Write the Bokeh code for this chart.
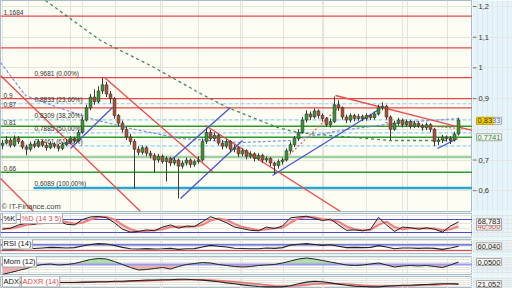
import numpy as np
from bokeh.plotting import figure
from bokeh.layouts import column, row
from bokeh.models import ColumnDataSource, Range1d, FixedTicker, Grid
from bokeh.core.properties import value
from bokeh.embed import file_html
from bokeh.resources import INLINE

# ---------------- data ----------------
opens = [0.748,0.755,0.765,0.748,0.770,0.760,0.742,0.735,0.752,0.745,
0.760,0.748,0.740,0.752,0.745,0.738,0.750,0.758,0.770,0.762,
0.790,0.830,0.870,0.905,0.890,0.925,0.945,0.915,0.900,0.845,
0.820,0.800,0.775,0.760,0.735,0.725,0.740,0.722,0.715,0.700,
0.712,0.695,0.705,0.690,0.700,0.680,0.690,0.700,0.685,0.695,
0.700,0.760,0.790,0.770,0.780,0.755,0.745,0.760,0.735,0.740,
0.720,0.730,0.712,0.720,0.705,0.715,0.700,0.705,0.690,0.682,
0.695,0.700,0.730,0.750,0.770,0.790,0.830,0.850,0.840,0.860,
0.845,0.835,0.815,0.825,0.880,0.870,0.840,0.830,0.845,0.835,
0.842,0.835,0.845,0.838,0.850,0.870,0.875,0.840,0.800,0.820,
0.830,0.815,0.825,0.810,0.820,0.812,0.805,0.815,0.800,0.760,
0.765,0.775,0.770,0.765,0.785]
closes = [0.755,0.765,0.748,0.770,0.760,0.742,0.735,0.752,0.745,0.760,
0.748,0.740,0.752,0.745,0.738,0.750,0.758,0.770,0.762,0.790,
0.830,0.870,0.905,0.890,0.925,0.945,0.915,0.900,0.845,0.820,
0.800,0.775,0.760,0.735,0.725,0.740,0.722,0.715,0.700,0.712,
0.695,0.705,0.690,0.700,0.680,0.690,0.700,0.685,0.695,0.700,
0.760,0.790,0.770,0.780,0.755,0.745,0.760,0.735,0.740,0.720,
0.730,0.712,0.720,0.705,0.715,0.700,0.705,0.690,0.682,0.695,
0.700,0.730,0.750,0.770,0.790,0.830,0.850,0.840,0.860,0.845,
0.835,0.815,0.825,0.880,0.870,0.840,0.830,0.845,0.835,0.842,
0.835,0.845,0.838,0.850,0.870,0.875,0.840,0.800,0.820,0.830,
0.815,0.825,0.810,0.820,0.812,0.805,0.815,0.800,0.760,0.765,
0.775,0.770,0.765,0.785,0.830]
highs = [0.765,0.778,0.772,0.780,0.778,0.765,0.750,0.760,0.762,0.768,
0.765,0.755,0.760,0.758,0.752,0.758,0.768,0.778,0.776,0.798,
0.840,0.880,0.915,0.930,0.940,0.968,0.955,0.925,0.905,0.850,
0.828,0.808,0.785,0.768,0.745,0.748,0.745,0.730,0.722,0.720,
0.718,0.712,0.710,0.708,0.705,0.698,0.708,0.705,0.702,0.712,
0.770,0.806,0.798,0.790,0.785,0.765,0.768,0.765,0.750,0.745,
0.738,0.735,0.728,0.725,0.722,0.720,0.712,0.710,0.695,0.702,
0.708,0.738,0.760,0.778,0.800,0.840,0.862,0.858,0.868,0.865,
0.852,0.840,0.835,0.907,0.895,0.875,0.848,0.852,0.850,0.850,
0.848,0.852,0.850,0.858,0.880,0.888,0.880,0.845,0.828,0.838,
0.835,0.832,0.830,0.828,0.826,0.818,0.822,0.820,0.805,0.775,
0.782,0.780,0.778,0.792,0.838]
lows = [0.735,0.750,0.740,0.742,0.752,0.735,0.715,0.728,0.738,0.740,
0.742,0.730,0.735,0.738,0.728,0.732,0.745,0.752,0.755,0.758,
0.785,0.825,0.862,0.880,0.885,0.915,0.905,0.885,0.835,0.810,
0.790,0.765,0.750,0.607,0.715,0.718,0.712,0.705,0.660,0.692,
0.688,0.630,0.680,0.683,0.575,0.672,0.682,0.675,0.678,0.688,
0.695,0.752,0.762,0.762,0.748,0.735,0.738,0.725,0.725,0.710,
0.712,0.702,0.705,0.695,0.698,0.690,0.692,0.680,0.655,0.672,
0.685,0.695,0.722,0.742,0.762,0.785,0.822,0.830,0.835,0.835,
0.825,0.808,0.806,0.820,0.860,0.832,0.820,0.822,0.826,0.828,
0.826,0.828,0.830,0.832,0.845,0.862,0.832,0.765,0.795,0.812,
0.806,0.808,0.802,0.804,0.805,0.795,0.798,0.790,0.745,0.748,
0.755,0.760,0.752,0.760,0.780]
bar_idx = list(range(len(closes)))

# horizontal levels
red_levels = [1.1684, 1.0655, 0.9681, 0.90, 0.87]
green_levels = [0.81, 0.7741, 0.66]
light_green_levels = [0.71]
fib_levels = [0.8833, 0.8309, 0.7885, 0.7461]
fib_base_level = [0.6089]
level_tags = ["1,1684", "0,9", "0,87", "0,81", "0,66"]
level_tag_vals = [1.1684, 0.90, 0.87, 0.81, 0.66]
fib_tags = ["0,9681 (0,00%)", "0,8833 (23,60%)", "0,8309 (38,20%)",
            "0,7885 (50,00%)", "0,7461 (61,80%)", "0,6089 (100,00%)"]
fib_tag_vals = [0.9681, 0.8833, 0.8309, 0.7885, 0.7461, 0.6089]

# trend lines (bar index, price)
red_tl_x0 = [25.5, -0.5, -0.5, 50.75, 83.25]
red_tl_y0 = [0.9687, 0.9752, 0.6397, 0.8124, 0.9101]
red_tl_x1 = [52.75, 34.5, 7.75, 84.5, 117.5]
red_tl_y1 = [0.6593, 0.5322, 0.5322, 0.5322, 0.7961]
blue_tl_x0 = [44.5, 41.5, 17.0, 67.5, 108.75]
blue_tl_y0 = [0.5746, 0.6919, 0.7375, 0.6495, 0.7375]
blue_tl_x1 = [60.0, 57.0, 27.5, 94.5, 113.75]
blue_tl_y1 = [0.7635, 0.8710, 0.8710, 0.8678, 0.7700]
red_dot_x0 = [70.25, 95.75]
red_dot_y0 = [0.6984, 0.8221]
red_dot_x1 = [83.75, 117.5]
red_dot_y1 = [0.8678, 0.7993]

# moving averages (dashed)
ma_green_idx = [10.75, 24.5, 37, 49.5, 56.25, 68.75, 73.75, 82, 97, 112.75]
ma_green_val = [1.2195, 1.0893, 1.0078, 0.9166, 0.8710, 0.8059, 0.7896, 0.7798, 0.7635, 0.7635]
ma_blue_idx = [-0.5, 5.75, 13.25, 22, 32, 44.5, 59.5, 72, 84.5, 99.5, 114.5]
ma_blue_val = [1.0176, 0.9101, 0.8743, 0.8352, 0.8026, 0.7700, 0.7570, 0.7635, 0.7961, 0.8221, 0.8352]

price_ticks = [0.6, 0.7, 0.9, 1.0, 1.1, 1.2]
price_tick_labels = ["0,6", "0,7", "0,9", "1", "1,1", "1,2"]
price_grid = [0.6, 0.7, 0.8, 0.9, 1.0, 1.1, 1.2]
month_idx = [6.5, 17, 28.25, 39.5, 49, 59.5, 70.25, 80.25, 91, 101.25, 111.25]

# last-value tags on the right scale
last_price = 0.8275
last_price_tags = ["0,8333", "0,83"]
support_level = 0.7741
support_tag = "0,7741"

# indicators (every second bar)
ind_idx = list(range(0, 115, 2))
stoch_k = [35,40,55,62,58,70,78,72,58,55,80,92,94,88,65,35,22,25,32,28,
           45,55,40,50,48,70,93,80,65,45,38,30,28,45,38,50,88,92,95,85,
           75,82,55,30,32,28,35,90,55,25,45,42,35,42,35,22,50,69]
stoch_d = [38,38,45,55,60,63,70,75,68,60,65,80,90,92,80,55,35,25,27,30,
           35,45,48,45,48,55,75,85,78,60,45,38,30,35,40,42,65,85,92,90,
           82,78,70,48,35,30,32,55,70,45,35,40,40,38,38,30,35,47]
rsi = [35,36,40,45,44,48,52,50,48,50,62,72,78,76,65,52,42,40,43,40,
       42,45,38,42,43,55,66,60,55,46,44,42,42,48,45,50,68,74,78,72,
       66,70,60,50,52,50,52,64,54,42,48,48,45,47,45,38,48,60]
mom = [-0.20,-0.16,-0.12,-0.08,-0.03,0.00,0.01,-0.01,0.00,0.02,
       0.06,0.10,0.12,0.11,0.06,0.00,-0.06,-0.11,-0.10,-0.08,
       -0.06,-0.09,-0.04,0.00,0.02,0.04,0.03,0.00,-0.02,-0.04,
       -0.05,-0.04,-0.02,-0.01,0.00,0.03,0.07,0.11,0.13,0.11,
       0.08,0.05,0.02,-0.01,-0.02,-0.01,0.01,0.03,-0.01,-0.05,
       -0.03,-0.02,-0.03,-0.02,-0.04,-0.06,-0.01,0.05]
adx = [25,25,25,24,24,24,25,25,25,25,26,26,27,27,28,28,29,30,31,31,
       32,32,33,33,32,31,29,27,24,22,19,17,15,14,14,14,17,22,26,28,
       27,24,21,18,16,15,14,14,16,17,18,18,19,20,21,22,22,21]
adxr = [27,27,26,26,25,25,25,25,25,25,25,26,26,26,27,27,28,28,29,30,
        30,31,31,32,32,32,31,30,29,27,25,23,21,19,17,16,16,17,19,21,
        22,22,22,21,20,18,17,16,16,16,17,17,18,19,19,20,21,21]
stoch_levels = [80, 20]
rsi_hi, rsi_lo = [70], [30]
mom_zero = [0.0]
stoch_last = [68.783, 46.900]
stoch_last_tags = ["68,783", "46,900"]
rsi_last, rsi_last_tag = 60.040, "60,040"
mom_last, mom_last_tag = 0.05, "0,0500"
adx_last, adx_last_tag = 21.052, "21,052"

# ---------------- styling ----------------
FONT = "Liberation Sans"
XR = (-0.5, 117.5)
BG = "#fdfdf3"
SIDE = "#e3f5fa"
GRIDC = "#e3e3da"
OUTLINE = "#a9bcc6"
SIDE_XR = (0, 40)


def make_fig(h, yr, bottom):
    p = figure(width=472, height=h, x_range=Range1d(*XR), y_range=Range1d(*yr),
               output_backend="svg", toolbar_location=None, title=None,
               x_axis_location=None, y_axis_location=None,
               min_border_left=0, min_border_right=0, min_border_top=0,
               min_border_bottom=bottom)
    p.background_fill_color = BG
    p.border_fill_color = SIDE
    p.outline_line_color = OUTLINE
    p.add_layout(Grid(dimension=0, ticker=FixedTicker(ticks=month_idx),
                      grid_line_color=GRIDC, grid_line_width=1))
    return p


def make_side(h, yr, bottom):
    s = figure(width=40, height=h, x_range=Range1d(*SIDE_XR), y_range=yr,
               output_backend="svg", toolbar_location=None, title=None,
               x_axis_location=None, y_axis_location=None,
               min_border_left=0, min_border_right=0, min_border_top=0,
               min_border_bottom=bottom)
    s.background_fill_color = SIDE
    s.border_fill_color = SIDE
    s.outline_line_color = None
    return s


def tag(s, ys, texts, colors, fill="#f6f6f0", border="#a8a8a8", x=4):
    n = len(texts)
    s.text(x=[x] * n, y=ys, text=texts, text_color=colors, text_font=value(FONT),
           text_font_size="7.5px", text_baseline="middle",
           background_fill_color=fill, border_line_color=border, padding=1)


def name_tag(p, x, y, text, color):
    p.text(x=[x], y=[y], text=[text], text_color=color, text_font=value(FONT),
           text_font_size="7.5px", text_baseline="middle", x_offset=0,
           background_fill_color="#ffffff", border_line_color="#a8a8a8", padding=1)


# ---------------- main price panel ----------------
main = make_fig(213, (0.53225, 1.21954), 2)
main.add_layout(Grid(dimension=1, ticker=FixedTicker(ticks=price_grid), grid_line_color=GRIDC))

def hlines(levels, color, width, dash="solid", start=XR[0]):
    main.segment(x0=[start] * len(levels), x1=[XR[1]] * len(levels), y0=levels, y1=levels,
                 line_color=color, line_width=width, line_dash=dash)

hlines(light_green_levels, "#9fd09f", 2.5)
hlines(fib_levels, "#8fd0f0", 1.2, "4 2")
hlines(red_levels, "#e84848", 1.2)
hlines(green_levels, "#2e9a2e", 1.5)
hlines(fib_base_level, "#2aa6cc", 2.5, start=7.75)

main.line(ma_green_idx, ma_green_val, line_color="#3c8a5c", line_width=1.3, line_dash="3 3")
main.line(ma_blue_idx, ma_blue_val, line_color="#7b8ee6", line_width=1.2, line_dash="3 2")

main.segment(red_tl_x0, red_tl_y0, red_tl_x1, red_tl_y1, line_color="#ee4a4a", line_width=1.3)
main.segment(blue_tl_x0, blue_tl_y0, blue_tl_x1, blue_tl_y1, line_color="#4a55d8", line_width=1.3)
main.segment(red_dot_x0, red_dot_y0, red_dot_x1, red_dot_y1, line_color="#ee5a5a",
             line_width=1.2, line_dash="2 2")

o = np.array(opens); c = np.array(closes)
csrc = ColumnDataSource(dict(x=bar_idx, high=highs, low=lows,
                             top=np.maximum(o, c), bottom=np.minimum(o, c),
                             color=np.where(c >= o, "#2f9a2f", "#b94a2c")))
main.segment(x0="x", y0="low", x1="x", y1="high", source=csrc, line_color="#3a3a3a", line_width=1)
main.vbar(x="x", width=0.7, top="top", bottom="bottom", source=csrc,
          fill_color="color", line_color="#333333", line_width=0.6)

lsrc = ColumnDataSource(dict(x=[0.25] * len(level_tags), y=level_tag_vals, t=level_tags))
main.text(x="x", y="y", text="t", source=lsrc, text_font=value(FONT), text_font_size="6.5px",
          text_color="#333333", text_baseline="bottom", y_offset=-1)
fsrc = ColumnDataSource(dict(x=[8.0] * len(fib_tags), y=fib_tag_vals, t=fib_tags))
main.text(x="x", y="y", text="t", source=fsrc, text_font=value(FONT), text_font_size="6.5px",
          text_color="#333333", text_baseline="bottom", y_offset=-1)
main.text(x=[-0.25], y=[0.5485], text=["© IT-Finance.com"], text_font=value(FONT),
          text_font_size="7.5px", text_color="#444444", text_baseline="middle")

# right price scale
ms = make_side(213, main.y_range, 2)
nt = len(price_ticks)
ms.segment(x0=[0] * nt, x1=[4] * nt, y0=price_ticks, y1=price_ticks, line_color="#777777", line_width=1)
ms.text(x=[6] * nt, y=price_ticks, text=price_tick_labels, text_font=value(FONT),
        text_font_size="7.5px", text_color="#333333", text_baseline="middle")
tag(ms, [last_price], [last_price_tags[0]], ["#4a6ad0"])
tag(ms, [last_price], [last_price_tags[1]], ["#333333"], fill="#f5d000", border="#c8a800")
tag(ms, [support_level], [support_tag], ["#2e8a2e"])

# ---------------- stochastic ----------------
st = make_fig(26, (-3.08, 107.7), 2)
st.segment(x0=[XR[0]] * 2, x1=[XR[1]] * 2, y0=stoch_levels, y1=stoch_levels,
           line_color="#4a4ad8", line_width=1.2)
st.varea(x=ind_idx, y1=stoch_k, y2=stoch_d, fill_color="#f0a8a8", fill_alpha=0.45)
st.line(ind_idx, stoch_d, line_color="#f08080", line_width=2)
st.line(ind_idx, stoch_k, line_color="#222222", line_width=1)
name_tag(st, 0.0, 86.9, "%K", "#111111")
name_tag(st, 4.5, 86.9, "%D (14 3 5)", "#e04848")
ss = make_side(26, st.y_range, 2)
tag(ss, [stoch_last[1]], [stoch_last_tags[1]], ["#e04848"])
tag(ss, [stoch_last[0]], [stoch_last_tags[0]], ["#222222"])

# ---------------- RSI ----------------
rs = make_fig(17, (8.9, 107.2), 3)
rs.segment(x0=[XR[0]], x1=[XR[1]], y0=rsi_hi, y1=rsi_hi, line_color="#4a4ad8", line_width=1.2)
rs.segment(x0=[XR[0]], x1=[XR[1]], y0=rsi_lo, y1=rsi_lo, line_color="#e84848", line_width=1.2)
rs.line(ind_idx, rsi, line_color="#222222", line_width=1.1)
name_tag(rs, 0.0, 79.1, "RSI (14)", "#111111")
rss = make_side(17, rs.y_range, 3)
tag(rss, [rsi_last], [rsi_last_tag], ["#222222"])

# ---------------- Momentum ----------------
mo = make_fig(20, (-0.20, 0.16), 2)
m = np.array(mom)
mo.varea(x=ind_idx, y1=0, y2=np.maximum(m, 0), fill_color="#9fd49f", fill_alpha=0.8)
mo.varea(x=ind_idx, y1=0, y2=np.minimum(m, 0), fill_color="#e6a0a0", fill_alpha=0.8)
mo.segment(x0=[XR[0]], x1=[XR[1]], y0=mom_zero, y1=mom_zero, line_color="#9a9af0", line_width=2)
mo.line(ind_idx, mom, line_color="#222222", line_width=1)
name_tag(mo, 0.0, 0.06, "Mom (12)", "#111111")
mos = make_side(20, mo.y_range, 2)
tag(mos, [mom_last], [mom_last_tag], ["#222222"])

# ---------------- ADX ----------------
ad = make_fig(12, (10, 40), 0)
ad.varea(x=ind_idx, y1=adx, y2=adxr, fill_color="#a0a0a0", fill_alpha=0.5)
ad.line(ind_idx, adxr, line_color="#f07070", line_width=1.5)
ad.line(ind_idx, adx, line_color="#222222", line_width=1.1)
name_tag(ad, 0.0, 27.5, "ADX", "#111111")
name_tag(ad, 4.75, 27.5, "ADXR (14)", "#e04848")
ads = make_side(12, ad.y_range, 0)
tag(ads, [adx_last], [adx_last_tag], ["#222222"])

layout = column(row(main, ms, spacing=0), row(st, ss, spacing=0), row(rs, rss, spacing=0),
                row(mo, mos, spacing=0), row(ad, ads, spacing=0), spacing=0)
open("out.html", "w").write(file_html(layout, INLINE))
